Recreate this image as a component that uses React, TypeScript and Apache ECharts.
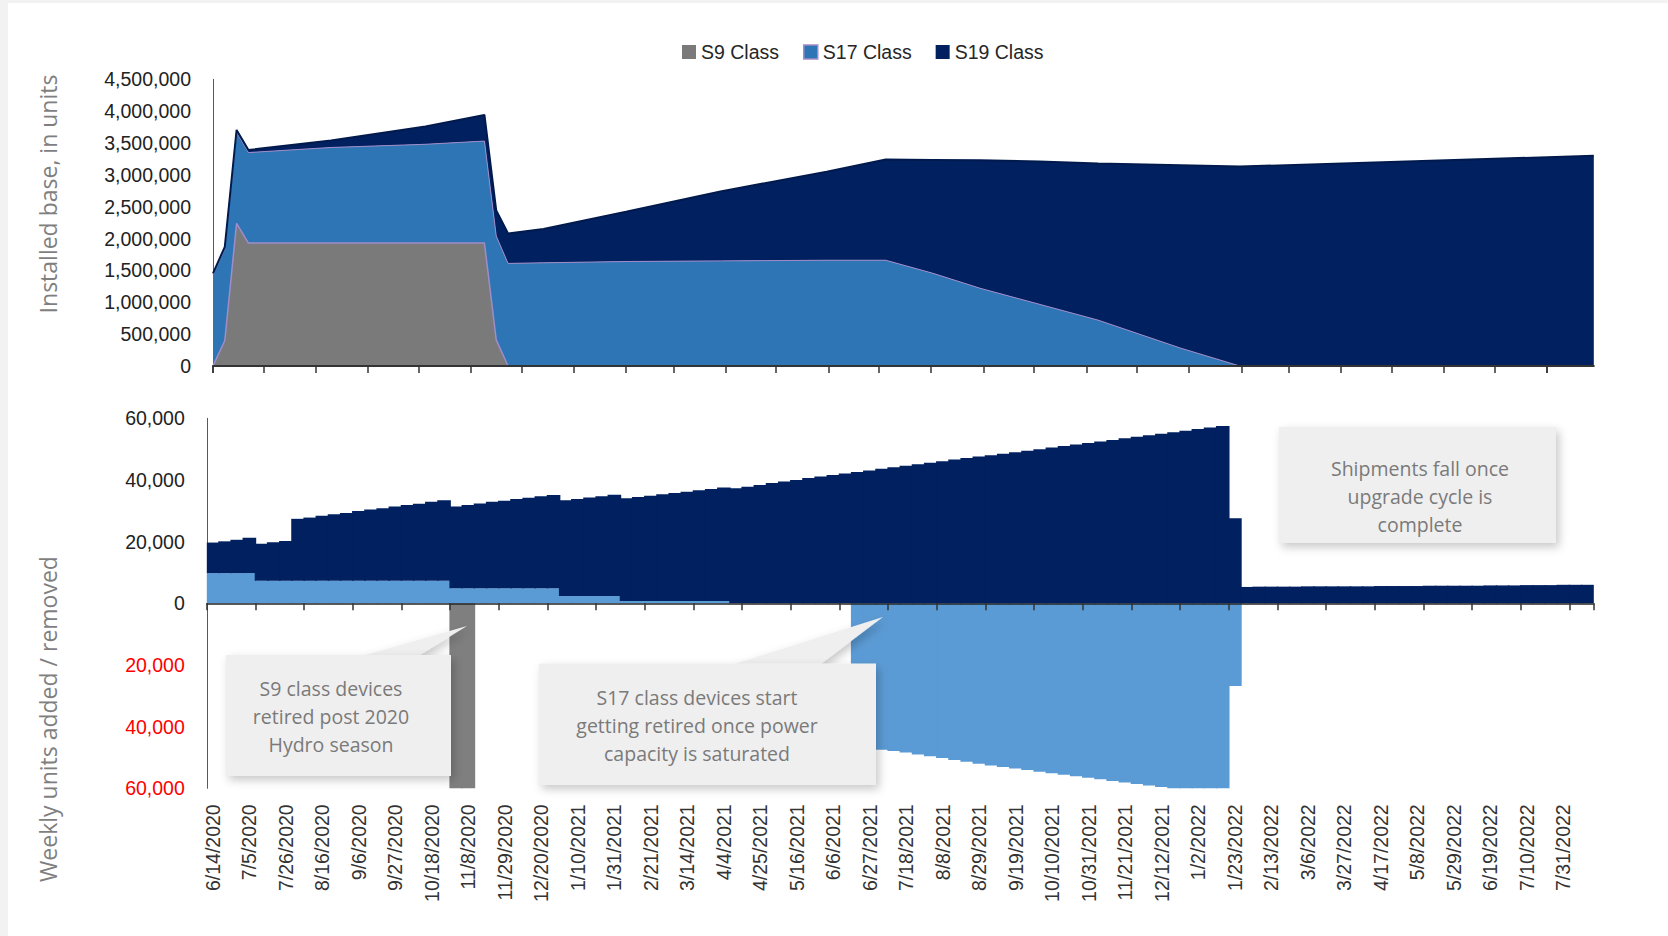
import React, { useEffect, useRef } from "react";
import * as echarts from "echarts";

// ---------------- DATA ----------------
const SERIES_NAMES = ["S9 Class", "S17 Class", "S19 Class"];

// Top chart: installed base (units) at the visible vertices
const TOP_DATES = [
  "2020-06-14", "2020-06-21", "2020-06-28", "2020-07-05", "2020-08-23", "2020-10-18", "2020-11-22",
  "2020-11-29", "2020-12-06", "2020-12-27", "2021-02-14", "2021-04-11", "2021-06-13", "2021-07-18",
  "2021-08-15", "2021-09-12", "2021-10-17", "2021-11-21", "2022-01-09", "2022-02-13", "2022-09-11",
];
const TOP_S9 = [0, 400000, 2240000, 1930000, 1930000, 1930000, 1930000, 410000, 0, 0, 0, 0, 0, 0, 0, 0, 0, 0, 0, 0, 0];
const TOP_S17 = [1430000, 1440000, 1430000, 1420000, 1500000, 1550000, 1600000, 1630000, 1610000, 1620000, 1640000, 1650000, 1660000, 1660000, 1455000, 1220000, 970000, 720000, 280000, 0, 0];
const TOP_S19 = [25000, 30000, 35000, 40000, 110000, 280000, 410000, 400000, 470000, 530000, 780000, 1090000, 1390000, 1580000, 1780000, 2010000, 2240000, 2460000, 2870000, 3130000, 3300000];
// monthly major ticks of the top (date) axis
const TOP_TICK_DATES = [
  "2020-06-14", "2020-07-14", "2020-08-14", "2020-09-14", "2020-10-14", "2020-11-14", "2020-12-14",
  "2021-01-14", "2021-02-14", "2021-03-14", "2021-04-14", "2021-05-14", "2021-06-14", "2021-07-14",
  "2021-08-14", "2021-09-14", "2021-10-14", "2021-11-14", "2021-12-14", "2022-01-14", "2022-02-14",
  "2022-03-14", "2022-04-14", "2022-05-14", "2022-06-14", "2022-07-14", "2022-08-14",
];
const TOP_X_MIN = "2020-06-14";
const TOP_X_MAX = "2022-09-11";

// Bottom chart: weekly units added / removed
const FIRST_WEEK = { year: 2020, month: 6, day: 14 };
const WEEK_COUNT = 114;
const S9_REMOVAL_DATES = ["11/1/2020", "11/8/2020"];
const S9_REMOVAL = [-1520000, -410000];

const S17_WEEKLY = [
  9800, 9800, 9800, 9800,
  7300, 7300, 7300, 7300, 7300, 7300, 7300, 7300, 7300, 7300, 7300, 7300, 7300, 7300, 7300, 7300,
  4900, 4900, 4900, 4900, 4900, 4900, 4900, 4900, 4900,
  2400, 2400, 2400, 2400, 2400,
  750, 750, 750, 750, 750, 750, 750, 750, 750,
  0, 0, 0, 0, 0, 0, 0, 0, 0, 0,
  -47000, -47200, -47500, -47900, -48400, -49000, -49600, -50200, -50800, -51400,
  -52000, -52600, -53100, -53600, -54100, -54600, -55100, -55600, -56100, -56600,
  -57100, -57600, -58100, -58600, -59100, -59600, -60100, -60400, -60600, -60800,
  -61000, -26800,
  0, 0, 0, 0, 0, 0, 0, 0, 0, 0, 0, 0, 0, 0, 0, 0, 0, 0, 0, 0, 0, 0, 0, 0, 0, 0, 0, 0, 0,
];

const S19_WEEKLY = [
  9900, 10300, 10800, 11500,
  12000, 12500, 12900,
  20100, 20500, 21100, 21600, 22000, 22600, 23100, 23500, 24100, 24600, 25000, 25600, 26100,
  26500, 27000, 27500, 28000, 28400, 28900, 29300, 29800, 30200,
  31000, 31400, 31900, 32300, 32800,
  33300, 33700, 34100, 34600, 35000, 35400, 35900, 36300, 36800,
  37300, 37800, 38400, 39000, 39500, 40000, 40600, 41100, 41600, 42100,
  42600, 43100, 43600, 44100, 44600, 45100, 45600, 46100, 46600, 47100,
  47600, 48000, 48500, 49000, 49500, 50000, 50500, 51000, 51500, 52000,
  52500, 53000, 53500, 54000, 54500, 55000, 55500, 56000, 56500, 57000,
  57500,
  27600,
  5300, 5400, 5400, 5400, 5400, 5500, 5500, 5500, 5500, 5500, 5500, 5600, 5600, 5600, 5600,
  5700, 5700, 5700, 5700, 5700, 5800, 5800, 5800, 5900, 5900, 5900, 6000, 6000, 6000,
];

const TOP_Y_TITLE = "Installed base, in units";
const BOTTOM_Y_TITLE = "Weekly units added / removed";
const NOTE_S9 = "S9 class devices\nretired post 2020\nHydro season";
const NOTE_S17 = "S17 class devices start\ngetting retired once power\ncapacity is saturated";
const NOTE_SHIP = "Shipments fall once\nupgrade cycle is\ncomplete";

// ---------------- derived helpers ----------------
const toMs = (iso: string) => {
  const [y, m, d] = iso.split("-").map(Number);
  return Date.UTC(y, m - 1, d);
};
const WEEK_DATES: string[] = Array.from({ length: WEEK_COUNT }, (_, i) => {
  const d = new Date(Date.UTC(FIRST_WEEK.year, FIRST_WEEK.month - 1, FIRST_WEEK.day + 7 * i));
  return `${d.getUTCMonth() + 1}/${d.getUTCDate()}/${d.getUTCFullYear()}`;
});
const S9_WEEKLY = WEEK_DATES.map((d) => {
  const k = S9_REMOVAL_DATES.indexOf(d);
  return k >= 0 ? S9_REMOVAL[k] : "-";
});

const LABEL_FONT = '"Liberation Sans", Arial, sans-serif';
const NOTE_FONT = '"Open Sans", "Noto Sans", sans-serif';

const C_S9 = "#7a7a7a";
const C_S17_TOP = "#2e75b6";
const C_S17_BAR = "#5b9bd5";
const C_S19 = "#002060";
const C_PURPLE = "#a08cc8";

function fmt(v: number) {
  return Math.abs(v).toLocaleString("en-US");
}

export default function App() {
  const ref = useRef<HTMLDivElement>(null);

  useEffect(() => {
    document.body.style.margin = "0";
    if (!ref.current) return;
    const chart = echarts.init(ref.current, undefined, { renderer: "svg" });

    const boxStyle = {
      fill: "#efefef",
      shadowBlur: 10,
      shadowColor: "rgba(0,0,0,0.22)",
      shadowOffsetX: 3,
      shadowOffsetY: 4,
    };
    const noteText = (text: string, x: number, y: number) => ({
      type: "text",
      x,
      y,
      z: 102,
      style: {
        text,
        fill: "#7a7a7a",
        font: `19.5px ${NOTE_FONT}`,
        textAlign: "center",
        textVerticalAlign: "middle",
        align: "center",
        verticalAlign: "middle",
        lineHeight: 28,
      },
    });
    const barSeries = (name: string, color: string, data: any[]) => ({
      name,
      type: "bar",
      xAxisIndex: 1,
      yAxisIndex: 1,
      stack: "weekly",
      barWidth: "112%",
      clip: true,
      itemStyle: { color, borderWidth: 0 },
      data,
    });

    const option: any = {
      animation: false,
      backgroundColor: "transparent",
      textStyle: { fontFamily: LABEL_FONT },
      legend: {
        left: 677,
        top: 37,
        itemWidth: 14,
        itemHeight: 14,
        itemGap: 24,
        icon: "rect",
        selectedMode: false,
        textStyle: { fontSize: 19.5, color: "#262626", fontFamily: LABEL_FONT },
        data: [
          { name: SERIES_NAMES[0], itemStyle: { color: C_S9, borderWidth: 0 } },
          { name: SERIES_NAMES[1], itemStyle: { color: C_S17_TOP, borderColor: C_PURPLE, borderWidth: 1.5 } },
          { name: SERIES_NAMES[2], itemStyle: { color: C_S19, borderWidth: 0 } },
        ],
      },
      grid: [
        { left: 213, top: 79.3, width: 1380.8, height: 286.7 },
        { left: 206.8, top: 418.3, width: 1387, height: 370 },
      ],
      xAxis: [
        {
          type: "time",
          gridIndex: 0,
          min: toMs(TOP_X_MIN),
          max: toMs(TOP_X_MAX),
          z: 5,
          axisLine: { show: true, lineStyle: { color: "#333", width: 2 } },
          axisTick: {
            show: true,
            length: 7,
            lineStyle: { color: "#333", width: 1.5 },
            customValues: TOP_TICK_DATES.map(toMs),
          },
          axisLabel: { show: false },
          splitLine: { show: false },
        },
        {
          type: "category",
          gridIndex: 1,
          data: WEEK_DATES,
          position: "bottom",
          boundaryGap: true,
          axisLine: { show: false, onZero: false },
          axisTick: { show: false },
          splitLine: { show: false },
          axisLabel: { interval: 2, rotate: 90, margin: 16, fontSize: 19.5, color: "#333", fontFamily: LABEL_FONT },
        },
        {
          type: "category",
          gridIndex: 1,
          data: WEEK_DATES,
          position: "top",
          boundaryGap: true,
          z: 5,
          axisLine: { show: true, onZero: true, lineStyle: { color: "#262626", width: 1.5 } },
          axisTick: { show: true, inside: true, interval: 3, length: 7, lineStyle: { color: "#333", width: 1.5 } },
          axisLabel: { show: false },
          splitLine: { show: false },
        },
      ],
      yAxis: [
        {
          type: "value",
          gridIndex: 0,
          min: 0,
          max: 4500000,
          interval: 500000,
          axisLine: { show: true, lineStyle: { color: "#595959", width: 1 } },
          axisTick: { show: false },
          splitLine: { show: false },
          axisLabel: { margin: 22, fontSize: 19.5, color: "#222", fontFamily: LABEL_FONT, formatter: (v: number) => fmt(v) },
        },
        {
          type: "value",
          gridIndex: 1,
          min: -60000,
          max: 60000,
          interval: 20000,
          axisLine: { show: true, lineStyle: { color: "#595959", width: 1 } },
          axisTick: { show: false },
          splitLine: { show: false },
          axisLabel: {
            margin: 22,
            fontSize: 19.5,
            fontFamily: LABEL_FONT,
            color: (v: any) => (Number(v) < 0 ? "#ff0000" : "#222"),
            formatter: (v: number) => fmt(v),
          },
        },
      ],
      series: [
        {
          name: SERIES_NAMES[0],
          type: "line",
          xAxisIndex: 0,
          yAxisIndex: 0,
          stack: "installed",
          symbol: "none",
          color: C_S9,
          lineStyle: { color: C_PURPLE, width: 1.5 },
          areaStyle: { color: C_S9, opacity: 1 },
          data: TOP_DATES.map((d, i) => [toMs(d), TOP_S9[i]]),
        },
        {
          name: SERIES_NAMES[1],
          type: "line",
          xAxisIndex: 0,
          yAxisIndex: 0,
          stack: "installed",
          symbol: "none",
          color: C_S17_TOP,
          lineStyle: { color: C_PURPLE, width: 1 },
          areaStyle: { color: C_S17_TOP, opacity: 1 },
          data: TOP_DATES.map((d, i) => [toMs(d), TOP_S17[i]]),
        },
        {
          name: SERIES_NAMES[2],
          type: "line",
          xAxisIndex: 0,
          yAxisIndex: 0,
          stack: "installed",
          symbol: "none",
          color: C_S19,
          lineStyle: { color: "#001a4d", width: 2 },
          areaStyle: { color: C_S19, opacity: 1 },
          data: TOP_DATES.map((d, i) => [toMs(d), TOP_S19[i]]),
        },
        barSeries(SERIES_NAMES[0], "#7f7f7f", S9_WEEKLY),
        barSeries(SERIES_NAMES[1], C_S17_BAR, S17_WEEKLY),
        barSeries(SERIES_NAMES[2], C_S19, S19_WEEKLY),
      ],
      graphic: [
        {
          type: "text",
          x: 48,
          y: 194,
          rotation: Math.PI / 2,
          z: 100,
          style: {
            text: TOP_Y_TITLE,
            fill: "#7f7f7f",
            font: `23px ${NOTE_FONT}`,
            textAlign: "center",
            textVerticalAlign: "middle",
            align: "center",
            verticalAlign: "middle",
          },
        },
        {
          type: "text",
          x: 48,
          y: 719,
          rotation: Math.PI / 2,
          z: 100,
          style: {
            text: BOTTOM_Y_TITLE,
            fill: "#7f7f7f",
            font: `23px ${NOTE_FONT}`,
            textAlign: "center",
            textVerticalAlign: "middle",
            align: "center",
            verticalAlign: "middle",
          },
        },
        // callout 1
        { type: "polygon", z: 100, shape: { points: [[362, 656], [418, 656], [467, 626]] }, style: boxStyle },
        { type: "rect", z: 101, shape: { x: 226, y: 655, width: 225, height: 121 }, style: boxStyle },
        noteText(NOTE_S9, 331, 716.5),
        // callout 2
        { type: "polygon", z: 100, shape: { points: [[733, 664.5], [820, 664.5], [883, 617]] }, style: boxStyle },
        { type: "rect", z: 101, shape: { x: 539, y: 663.5, width: 337, height: 121.5 }, style: boxStyle },
        noteText(NOTE_S17, 697, 725.5),
        // callout 3
        { type: "rect", z: 101, shape: { x: 1279, y: 427, width: 277, height: 116 }, style: boxStyle },
        noteText(NOTE_SHIP, 1420, 496.5),
      ],
    };

    chart.setOption(option);
    return () => {
      chart.dispose();
    };
  }, []);

  return (
    <div style={{ position: "relative", width: 1668, height: 936, background: "#f2f2f2", overflow: "hidden" }}>
      <div style={{ position: "absolute", left: 8, top: 3, right: 0, bottom: 0, background: "#ffffff" }} />
      <div ref={ref} style={{ position: "absolute", left: 0, top: 0, width: 1668, height: 936 }} />
    </div>
  );
}
